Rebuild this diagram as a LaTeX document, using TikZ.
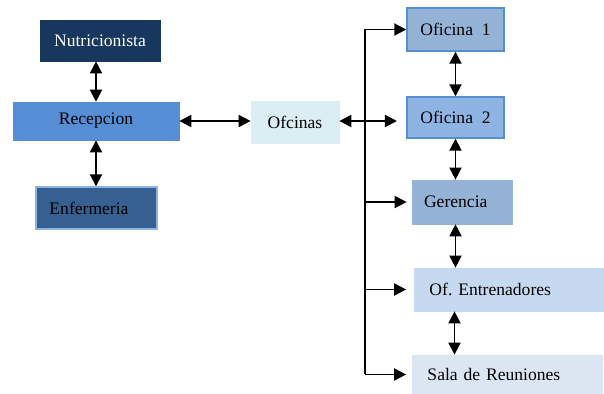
\documentclass[tikz,border=0pt]{standalone}
\usepackage{fontspec}
\setmainfont{Liberation Serif}
\definecolor{orgNavy}{RGB}{23, 55, 94}
\definecolor{orgBlue}{RGB}{85, 142, 213}
\definecolor{orgSteel}{RGB}{54, 96, 146}
\definecolor{orgEdge}{RGB}{142, 180, 227}
\definecolor{orgIce}{RGB}{219, 238, 244}
\definecolor{orgMid}{RGB}{149, 179, 215}
\definecolor{orgSky}{RGB}{141, 180, 226}
\definecolor{orgPale}{RGB}{198, 217, 241}
\definecolor{orgMist}{RGB}{220, 230, 242}
\usetikzlibrary{arrows.meta, positioning, calc}
\tikzset{
  unit/.style={rectangle, fill=#1, draw=#1, minimum width=2cm, minimum height=0.84cm, inner sep=0pt, align=center, font=\fontsize{10}{12}\selectfont},
  unit/.default=orgMid,
  edgeunit/.style={unit=#1, draw=orgBlue, line width=0.8pt},
  wideunit/.style={unit=#1, text width=3.2cm, align=left, inner xsep=0.3cm},
  link/.style={{Triangle[length=0.24cm, width=0.24cm]}-{Triangle[length=0.24cm, width=0.24cm]}, line width=1.1pt, black},
  branch/.style={-{Triangle[length=0.24cm, width=0.24cm]}, line width=1.1pt, black},
}
\begin{document}
\begin{tikzpicture}
  \useasboundingbox (0,0) rectangle (12.08,-7.88);
  \node[unit=orgNavy, minimum width=2.4cm, minimum height=0.82cm, text=white] (nutri) at (2.0, -0.81) {Nutricionista};
  \node[unit=orgBlue, minimum width=3.32cm, minimum height=0.76cm] (recep) at (1.92, -2.42) {Recepcion};
  \node[unit=orgSteel, draw=orgEdge, line width=0.8pt, minimum width=2.42cm, minimum height=0.84cm] (enfer) at (1.93, -4.16) {\hspace*{-0.3cm}Enfermeria};
  \node[unit=orgIce, minimum width=1.76cm, minimum height=0.84cm] (ofic) at (5.9, -2.44) {Ofcinas};

  \node[edgeunit=orgMid, minimum width=1.94cm, minimum height=0.86cm] (of1) at (9.11, -0.59) {Oficina\ \ 1};
  \node[edgeunit=orgSky, minimum width=1.94cm, minimum height=0.82cm] (of2) at (9.11, -2.35) {Oficina\ \ 2};
  \node[unit=orgMid, minimum width=2.0cm, minimum height=0.88cm] (geren) at (9.24, -4.04) {\hspace*{-0.25cm}Gerencia};
  \node[wideunit=orgPale, minimum width=3.78cm, minimum height=0.86cm] (entren) at (10.19, -5.79) {Of.\ Entrenadores};
  \node[wideunit=orgMist, minimum width=3.78cm, minimum height=0.78cm] (sala) at (10.15, -7.49) {Sala\ de Reuniones};

  \coordinate (trunk) at (7.3, -0.59);
  \coordinate (ofend) at (7.94, -2.42);

  \draw[link] (nutri.south -| recep) -- (recep.north);
  \draw[link] (recep.south) -- (recep.south |- enfer.north);
  \draw[link] (recep.east) -- (recep.east -| ofic.west);
  \draw[link] (ofic.east |- ofend) -- (ofend);

  \draw[line width=1.1pt] (trunk) -- (trunk |- sala);
  \draw[branch] (trunk) -- (of1.west);
  \draw[branch, shorten >=0.1cm] (trunk |- geren) -- (geren.west);
  \draw[branch, shorten >=0.16cm] (trunk |- entren) -- (entren.west);
  \draw[branch, shorten >=0.12cm] (trunk |- sala) -- (sala.west);

  \draw[link] (of1.south) -- (of2.north);
  \draw[link] (of2.south) -- (of2.south |- geren.north);
  \draw[link] (of2.south |- geren.south) -- (of2.south |- entren.north);
  \draw[link] ([xshift=-0.02cm]of2.south |- entren.south) -- ([xshift=-0.02cm]of2.south |- sala.north);
\end{tikzpicture}
\end{document}
